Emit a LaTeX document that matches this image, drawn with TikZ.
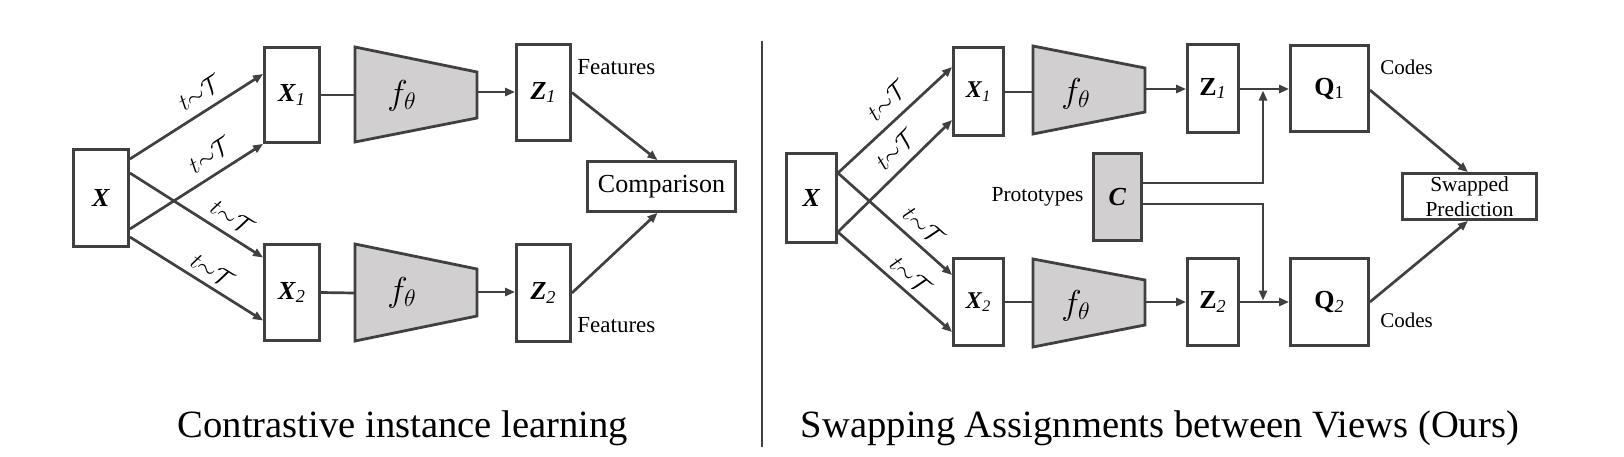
\documentclass[tikz,border=0pt]{standalone}
\usepackage{fontspec}
\setmainfont{Liberation Serif}
\usetikzlibrary{arrows.meta,calc}
\definecolor{ln}{HTML}{404040}
\definecolor{gf}{HTML}{D1CFD0}
\tikzset{
  bx/.style n args={2}{draw=ln, line width=1.4pt, fill=white, inner sep=0pt,
     minimum width=#1*0.5pt, minimum height=#2*0.5pt},
  arr/.style={draw=ln, line width=1.35pt, -{Triangle[length=5pt,width=4pt]}},
  ln/.style={draw=ln, line width=1.35pt},
  trap/.style={draw=ln, line width=1.4pt, fill=gf, line join=miter},
  tl/.style={sloped, above=#1, inner sep=1pt, font=\fontsize{12}{13}\selectfont},
  lab/.style={inner sep=0pt, font=\fontsize{11.5}{13}\selectfont},
  mlab/.style={font=\fontsize{13}{15}\selectfont},
  flab/.style={font=\fontsize{17}{19}\selectfont},
}
\newcommand{\tT}{$t{\sim}\mathcal{T}$}
\newcommand{\sbi}[1]{\textsubscript{\itshape #1}}
\newcommand{\sbu}[1]{\textsubscript{#1}}
\begin{document}
\begin{tikzpicture}[x=0.5pt,y=-0.5pt]
\path[use as bounding box] (0,0) rectangle (1624,456);

% ---------------- left ----------------
\node[bx={55}{97}, mlab] (X) at (101,198) {\textbf{\textit{X}}};
\node[bx={55}{95}, mlab] (X1) at (292,95) {\textbf{\textit{X}}\sbi{1}};
\node[bx={55}{96}, mlab] (X2) at (292,292.5) {\textbf{\textit{X}}\sbi{2}};
\node[bx={54}{96}, mlab] (Z1) at (543.5,92.5) {\textbf{\textit{Z}}\sbi{1}};
\node[bx={54}{97}, mlab] (Z2) at (543.5,293) {\textbf{\textit{Z}}\sbi{2}};
\node[bx={148}{50}, font=\fontsize{13}{15}\selectfont] (Cmp) at (661.5,186.5) {Comparison};

\draw[trap] (355,47) -- (477,72) -- (477,118) -- (355,142) -- cycle;
\draw[trap] (355,244) -- (477,269) -- (477,316) -- (355,341) -- cycle;
\node[flab] (F1) at (402,96) {$f_\theta$};
\node[flab] (F2) at (402,293) {$f_\theta$};
\coordinate (F1in) at (355,95);
\coordinate (F1out) at (477,92);
\coordinate (F2in) at (355,293);
\coordinate (F2out) at (477,292);

\draw[arr] ($(X.east)+(0,-39)$) -- node[tl=3.5pt, pos=0.6] {\tT} ($(X1.west)+(0,-21)$);
\draw[arr] ($(X.east)+(0,31)$) -- node[tl=4pt, pos=0.68] {\tT} (X1.south west);
\draw[arr] ($(X.east)+(0,-25)$) -- node[tl=3pt, pos=0.7] {\tT} ($(X2.west)+(0,-35)$);
\draw[arr] ($(X.east)+(0,39)$) -- node[tl=2pt, pos=0.56] {\tT} ($(X2.west)+(0,28)$);

\draw[ln] (X1.east) -- (F1in);
\draw[ln] (X2.east) -- (F2in);
\draw[arr] (F1out) -- (Z1.west |- F1out);
\draw[arr] (F2out) -- (Z2.west |- F2out);
\draw[arr] (Z1.east) -- ($(Cmp.north)+(-4,0)$);
\draw[arr] (Z2.east) -- ($(Cmp.south)+(-4,0)$);

\node[lab, anchor=west] (Fe1) at (577,67) {Features};
\node[lab, anchor=west] (Fe2) at (577,325) {Features};

\coordinate (D1) at (762,41);
\coordinate (D2) at (762,447);
\draw[draw=ln, line width=0.8pt] (D1) -- (D2);

\node[anchor=base, font=\fontsize{19.3}{23}\selectfont] (Cap1) at (403,437) {Contrastive instance learning};
\node[anchor=base, font=\fontsize{19.3}{23}\selectfont] (Cap2) at (1160,437) {Swapping Assignments between Views (Ours)};

% ---------------- right ----------------
\node[bx={50}{89}, mlab] (RX) at (811.5,198) {\textbf{\textit{X}}};
\node[bx={50}{88}, font=\fontsize{12}{14}\selectfont] (RX1) at (978.5,91.5) {\textbf{\textit{X}}\sbi{1}};
\node[bx={50}{87}, font=\fontsize{12}{14}\selectfont] (RX2) at (978.5,302) {\textbf{\textit{X}}\sbi{2}};
\node[bx={48}{87}, fill=gf, mlab] (C) at (1117.5,197) {\textbf{\textit{C}}};
\node[bx={51}{88}, mlab] (RZ1) at (1213,88.5) {\textbf{Z}\sbi{1}};
\node[bx={51}{87}, mlab] (RZ2) at (1213,302) {\textbf{Z}\sbi{2}};
\node[bx={78}{86}, mlab] (Q1) at (1329.5,88.5) {\textbf{Q}\sbu{1}};
\node[bx={78}{87}, mlab] (Q2) at (1329.5,302) {\textbf{Q}\sbi{2}};
\node[bx={134}{46}, align=center, font=\fontsize{10.7}{12.5}\selectfont] (SP) at (1469.5,196.5) {Swapped\\Prediction};

\draw[trap] (1033,46) -- (1145,68) -- (1145,112) -- (1033,134) -- cycle;
\draw[trap] (1033,259) -- (1145,280) -- (1145,325) -- (1033,347) -- cycle;
\node[flab] (RF1) at (1076,94) {$f_\theta$};
\node[flab] (RF2) at (1076,306) {$f_\theta$};
\coordinate (RF1in) at (1033,92);
\coordinate (RF1out) at (1145,89);
\coordinate (RF2in) at (1033,302);
\coordinate (RF2out) at (1145,302);

\draw[arr] ($(RX.east)+(0,-25)$) -- node[tl=4pt, pos=0.55] {\tT} ($(RX1.west)+(0,-24.5)$);
\draw[arr] ($(RX.east)+(0,34)$) -- node[tl=3.5pt, pos=0.62] {\tT} ($(RX1.west)+(0,28.5)$);
\draw[arr] ($(RX.east)+(0,-25)$) -- node[tl=3pt, pos=0.65] {\tT} ($(RX2.west)+(0,-27)$);
\draw[arr] ($(RX.east)+(0,34)$) -- node[tl=2pt, pos=0.55] {\tT} ($(RX2.west)+(0,30)$);

\draw[ln] (RX1.east |- RF1in) -- (RF1in);
\draw[ln] (RX2.east |- RF2in) -- (RF2in);
\draw[arr] (RF1out) -- (RZ1.west |- RF1out);
\draw[arr] (RF2out) -- (RZ2.west |- RF2out);
\draw[arr] (RZ1.east |- RF1out) -- (Q1.west |- RF1out);
\draw[arr] (RZ2.east) -- (Q2.west);

\coordinate (J1) at (1263,90.5);
\coordinate (J2) at (1263,300.5);
\draw[arr] ($(C.east)+(0,-14)$) -| (J1);
\draw[arr] ($(C.east)+(0,7)$) -| (J2);

\draw[arr] ($(Q1.east)+(0,1.5)$) -- ($(SP.north)+(-1.5,0)$);
\draw[arr] (Q2.east) -- ($(SP.south)+(-1.5,0)$);

\node[lab, anchor=east, font=\fontsize{10.75}{12}\selectfont] (Pr) at (1084,197) {Prototypes};
\node[lab, anchor=west, font=\fontsize{10.5}{12}\selectfont] (Co1) at (1380,67) {Codes};
\node[lab, anchor=west, font=\fontsize{10.5}{12}\selectfont] (Co2) at (1380,320) {Codes};
\end{tikzpicture}
\end{document}
